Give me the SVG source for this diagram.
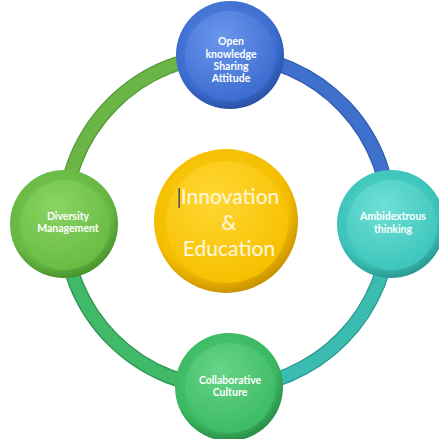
<svg xmlns="http://www.w3.org/2000/svg" width="439" height="439" viewBox="0 0 439 439">
<style>
.lbl{font-family:Lato,"Open Sans","DejaVu Sans",sans-serif;font-weight:700;font-size:10.5px;fill:#fff;text-anchor:middle}
.big{font-family:Lato,"Open Sans","DejaVu Sans",sans-serif;font-weight:500;font-size:21px;fill:#fff6d8;text-anchor:middle}
.ringedge{fill:none;stroke-width:15}
.ring{fill:none;stroke-width:12.5}
</style>
<defs>
<radialGradient id="gBlue" cx="45%" cy="40%" r="60%"><stop offset="0" stop-color="#5a8ae6"/><stop offset="0.8" stop-color="#3c6ccf"/><stop offset="1" stop-color="#2a52a8"/></radialGradient>
<radialGradient id="gBlueIn" cx="40%" cy="30%" r="70%"><stop offset="0" stop-color="#6b97ec"/><stop offset="1" stop-color="#3d6dd0"/></radialGradient>
<radialGradient id="gLG" cx="45%" cy="40%" r="60%"><stop offset="0" stop-color="#7ccb55"/><stop offset="0.8" stop-color="#66b843"/><stop offset="1" stop-color="#4a932e"/></radialGradient>
<radialGradient id="gLGIn" cx="40%" cy="30%" r="70%"><stop offset="0" stop-color="#8bd463"/><stop offset="1" stop-color="#68bc45"/></radialGradient>
<radialGradient id="gTeal" cx="45%" cy="40%" r="60%"><stop offset="0" stop-color="#56d6cc"/><stop offset="0.8" stop-color="#3cc3b9"/><stop offset="1" stop-color="#2a9a92"/></radialGradient>
<radialGradient id="gTealIn" cx="40%" cy="30%" r="70%"><stop offset="0" stop-color="#6fe0d6"/><stop offset="1" stop-color="#3ec6bc"/></radialGradient>
<radialGradient id="gGreen" cx="45%" cy="40%" r="60%"><stop offset="0" stop-color="#55cc78"/><stop offset="0.8" stop-color="#3bb862"/><stop offset="1" stop-color="#2a8f49"/></radialGradient>
<radialGradient id="gGreenIn" cx="40%" cy="30%" r="70%"><stop offset="0" stop-color="#66d488"/><stop offset="1" stop-color="#3dbb65"/></radialGradient>
<radialGradient id="gYel" cx="45%" cy="40%" r="60%"><stop offset="0" stop-color="#ffd21a"/><stop offset="0.8" stop-color="#f4bd00"/><stop offset="1" stop-color="#c99400"/></radialGradient>
<radialGradient id="gYelIn" cx="40%" cy="30%" r="70%"><stop offset="0" stop-color="#ffd733"/><stop offset="1" stop-color="#f6c000"/></radialGradient>
</defs>
<rect width="439" height="439" fill="#fff"/>
<g id="connectors">
<path class="ringedge" stroke="#4f9a33" d="M64 224 A166 166 0 0 1 230 55"/>
<path class="ring" stroke="#6ab545" d="M64 224 A166 166 0 0 1 230 55"/>
<path class="ringedge" stroke="#2f5bb0" d="M230 55 A166 166 0 0 1 390 224"/>
<path class="ring" stroke="#3f70cb" d="M230 55 A166 166 0 0 1 390 224"/>
<path class="ringedge" stroke="#2a9990" d="M390 224 A166 166 0 0 1 229 388"/>
<path class="ring" stroke="#3bbcb1" d="M390 224 A166 166 0 0 1 229 388"/>
<path class="ringedge" stroke="#2b9450" d="M229 388 A166 166 0 0 1 64 224"/>
<path class="ring" stroke="#40b968" d="M229 388 A166 166 0 0 1 64 224"/>
</g>
<g id="node-top">
<circle cx="230" cy="55" r="54" fill="url(#gBlue)"/>
<circle cx="230" cy="56" r="45" fill="url(#gBlueIn)"/>
<text class="lbl" x="231" y="45">Open</text>
<text class="lbl" x="231" y="58">knowledge</text>
<text class="lbl" x="231" y="70">Sharing</text>
<text class="lbl" x="231" y="82">Attitude</text>
</g>
<g id="node-left">
<circle cx="64" cy="224" r="54" fill="url(#gLG)"/>
<circle cx="65" cy="225" r="45" fill="url(#gLGIn)"/>
<text class="lbl" x="68" y="220">Diversity</text>
<text class="lbl" x="68" y="232">Management</text>
</g>
<g id="node-right">
<circle cx="391" cy="224" r="54" fill="url(#gTeal)"/>
<circle cx="392" cy="225" r="45" fill="url(#gTealIn)"/>
<text class="lbl" x="393" y="220">Ambidextrous</text>
<text class="lbl" x="393" y="233">thinking</text>
</g>
<g id="node-bottom">
<circle cx="229" cy="387" r="54" fill="url(#gGreen)"/>
<circle cx="230" cy="388" r="45" fill="url(#gGreenIn)"/>
<text class="lbl" x="230" y="384">Collaborative</text>
<text class="lbl" x="230" y="396">Culture</text>
</g>
<g id="node-center">
<circle cx="226" cy="221" r="72" fill="url(#gYel)"/>
<circle cx="227" cy="222" r="61" fill="url(#gYelIn)"/>
<rect x="178.5" y="188" width="1.3" height="20" fill="#3a3a5a"/>
<text class="big" x="230" y="204">Innovation</text>
<text class="big" x="229" y="230">&amp;</text>
<text class="big" x="229" y="256">Education</text>
</g>
</svg>
